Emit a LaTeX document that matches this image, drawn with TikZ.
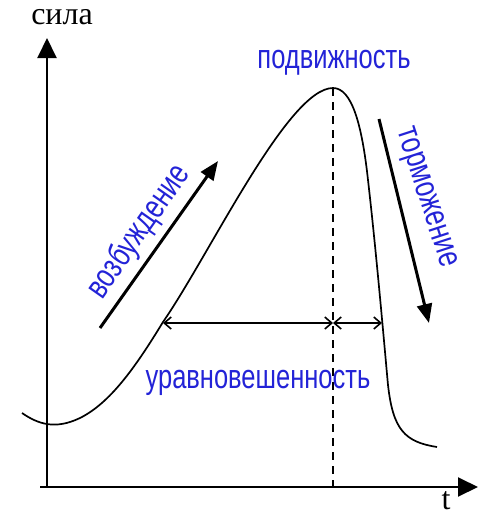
\documentclass[tikz,border=0pt]{standalone}
\usepackage{fontspec}
\usepackage{xcolor}
\usetikzlibrary{arrows.meta, positioning}
\setmainfont{Liberation Serif}
\newfontfamily\narrowsans[FakeStretch=0.75]{Liberation Sans}
\definecolor{lblue}{RGB}{35,35,215}

\begin{document}
\begin{tikzpicture}[
  x=1pt, y=-1pt,
  axis/.style={line width=2pt, -{Triangle[length=20pt, width=19pt]}},
  curve/.style={line width=1.7pt},
  trend/.style={line width=3pt, -{Triangle[length=19pt, width=15pt]}},
  span/.style={line width=1.6pt, {Straight Barb[length=7pt, width=12pt]}-{Straight Barb[length=7pt, width=12pt]}},
  lbl/.style={font=\narrowsans\fontsize{34}{34}\selectfont, text=lblue, inner sep=0pt},
  ax/.style={font=\fontsize{32}{32}\selectfont, inner sep=0pt}
]
\useasboundingbox (0,0) rectangle (481,520);
% axes
\coordinate (o) at (47,487);
\coordinate (ytop) at (47,38);
\coordinate (xend) at (478,487);
\draw[axis] (o) -- (ytop);
\draw[axis] (40,487) -- (xend);
\node[ax] (force) at (62,17) {сила};
\node[ax] (time) at (446,501) {t};
% response curve
\coordinate (peak) at (333,88);
\draw[curve] (22,413) .. controls (38,424) and (55,430) .. (80,418)
  .. controls (110,403) and (135,368) .. (163,322)
  .. controls (210,254) and (288,88) .. (peak)
  .. controls (352,88) and (362,125) .. (368,180)
  .. controls (376,250) and (383,330) .. (388,385)
  .. controls (393,430) and (405,442) .. (437,447);
\coordinate (foot) at (333,487);
\draw[line width=1.5pt, dash pattern=on 8pt off 6pt] (peak) -- (foot);
% balance span
\coordinate (sl) at (163,323);
\coordinate (sm) at (333,323);
\coordinate (sr) at (382,323);
\draw[span] (sl) -- (sm);
\draw[span] (sm) -- (sr);
% trends
\coordinate (ea) at (100,328);
\coordinate (eb) at (218,161);
\draw[trend] (ea) -- (eb);
\coordinate (ia) at (379,119);
\coordinate (ib) at (429,323);
\draw[trend] (ia) -- (ib);
\node[lbl] (mob) at (334,63) {подвижность};
\node[lbl] (bal) at (258,383) {уравновешенность};
\node[lbl, rotate=55] (exc) at (139,232) {возбуждение};
\node[lbl, rotate=-72] (inh) at (425,198) {торможение};
\end{tikzpicture}
\end{document}
